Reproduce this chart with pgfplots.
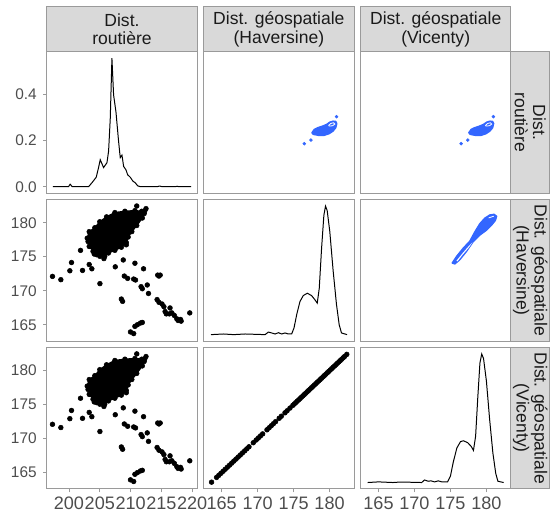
\documentclass[border=0pt]{standalone}
\usepackage{fontspec}
\setmainfont{Liberation Sans}
\usepackage{pgfplots}
\pgfplotsset{compat=1.18}
\usepgfplotslibrary{groupplots}
\usepackage{pgfplotstable}

\definecolor{stripfill}{HTML}{D9D9D9}
\definecolor{frame}{HTML}{9A9A9A}
\definecolor{ticktext}{HTML}{4D4D4D}
\definecolor{striptext}{HTML}{1A1A1A}
\definecolor{contour}{HTML}{3366FF}

% density of road distance
\pgfplotstableread{
r d
197.38 0
199.92 0
200.19 0.011
200.52 0
202.09 0
203.18 0
203.72 0.017
204.42 0.041
204.80 0.083
205.07 0.117
205.35 0.100
205.61 0.083
206.16 0.104
206.43 0.155
206.70 0.297
206.97 0.558
207.24 0.398
207.62 0.326
208.05 0.197
208.32 0.126
208.60 0.137
208.87 0.088
209.25 0.073
209.52 0.052
209.95 0.041
210.38 0.024
210.76 0.017
211.14 0.004
211.58 0
214.29 0
214.72 0.003
215.10 0
217.27 0
217.54 0.002
217.81 0
219.81 0
}\densR

% density of Haversine distance (scaled)
\pgfplotstableread{
h d
163.52 0
165.27 0.005
166.66 0
168.27 0.005
171.04 0
171.50 0.020
171.96 0.013
172.43 0.005
172.89 0.015
173.35 0.005
173.81 0.013
174.27 0.005
174.73 0.005
175.06 0.052
175.43 0.155
175.89 0.258
176.35 0.304
176.90 0.322
177.50 0.304
177.97 0.271
178.29 0.245
178.57 0.361
178.89 0.670
179.21 0.928
179.44 1.000
179.67 0.966
180.04 0.799
180.51 0.490
180.97 0.232
181.34 0.077
181.66 0.013
182.44 0
}\densH

% density of Vicenty distance (scaled)
\pgfplotstableread{
v d
163.50 0
165.00 0.005
167.00 0
168.10 0.004
171.00 0
171.40 0.020
171.90 0.010
172.30 0.013
172.80 0.005
173.30 0.013
173.80 0.005
174.60 0.005
175.00 0.050
175.40 0.160
175.90 0.270
176.40 0.318
176.80 0.325
177.40 0.310
177.90 0.280
178.20 0.250
178.50 0.360
178.80 0.660
179.10 0.930
179.35 1.000
179.60 0.965
180.00 0.790
180.45 0.490
180.90 0.230
181.30 0.070
181.60 0.010
182.40 0
}\densV

% road vs geodesic: scattered points
\pgfplotstableread{
r h
197.32 172.11
198.68 171.63
200.14 172.94
200.41 174.15
201.87 175.94
202.20 172.99
203.28 173.86
203.71 173.23
203.28 176.52
204.10 175.40
205.02 171.05
205.67 174.73
207.51 173.52
208.81 174.53
208.98 172.16
209.52 171.82
208.50 168.78
208.70 168.44
210.70 174.05
210.50 171.72
210.80 171.58
212.10 173.23
211.70 170.60
211.90 170.30
212.70 170.85
212.90 169.60
214.60 172.16
214.80 172.30
214.40 172.30
214.30 168.70
214.60 168.30
215.10 168.05
215.40 167.66
215.60 166.94
216.40 167.47
215.80 166.60
216.30 166.60
216.70 166.74
217.10 166.36
217.50 165.87
217.70 165.63
218.10 165.78
218.20 165.53
219.60 166.74
209.98 163.94
210.50 163.70
210.70 164.76
211.10 165.00
211.60 165.25
211.90 165.34
211.00 182.47
212.50 182.08
212.30 181.74
209.30 176.76
207.70 177.82
}\scat

% road vs geodesic: dense core of the cloud
\pgfplotstableread{
r h
202.96 177.73
203.28 178.69
204.20 179.27
205.00 180.15
206.10 180.87
207.45 181.50
209.08 181.69
210.70 181.79
211.80 181.69
212.20 181.35
211.90 180.70
211.00 179.60
210.20 178.70
209.60 177.90
209.30 177.10
208.50 176.40
207.45 175.95
206.40 175.55
205.80 175.07
205.00 175.07
204.50 175.30
203.90 175.80
203.50 176.50
203.10 177.24
}\core

% Haversine vs Vicenty
\pgfplotstableread{
h v
163.6 163.6
164.3 164.3
164.6 164.6
164.9 164.9
165.2 165.2
165.5 165.5
165.8 165.8
166.1 166.1
166.4 166.4
166.7 166.7
167.0 167.0
167.3 167.3
167.6 167.6
167.9 167.9
168.2 168.2
168.5 168.5
168.8 168.8
169.4 169.4
169.8 169.8
170.1 170.1
170.4 170.4
170.7 170.7
171.3 171.3
171.6 171.6
171.9 171.9
172.2 172.2
172.5 172.5
173.0 173.0
173.3 173.3
173.8 173.8
174.1 174.1
174.5 174.5
174.9 174.9
175.1 175.1
175.3 175.3
175.5 175.5
175.7 175.7
175.9 175.9
176.1 176.1
176.3 176.3
176.5 176.5
176.7 176.7
176.9 176.9
177.1 177.1
177.3 177.3
177.5 177.5
177.7 177.7
177.9 177.9
178.1 178.1
178.3 178.3
178.5 178.5
178.7 178.7
178.9 178.9
179.1 179.1
179.3 179.3
179.5 179.5
179.7 179.7
179.9 179.9
180.1 180.1
180.3 180.3
180.5 180.5
180.7 180.7
180.9 180.9
181.1 181.1
181.3 181.3
181.5 181.5
181.7 181.7
181.9 181.9
182.1 182.1
182.4 182.4
}\diag

% 2d density contour: geodesic (x) vs road (y)
\pgfplotstableread{
x y
177.55 206.83
177.87 207.40
178.33 207.69
179.03 207.98
179.58 208.26
180.04 208.66
180.50 208.83
180.87 208.78
181.01 208.43
180.87 207.69
180.50 207.12
179.95 206.66
179.26 206.37
178.47 206.37
177.73 206.54
}\cblob
\pgfplotstableread{
x y
179.86 208.09
180.18 208.43
180.55 208.55
180.74 208.32
180.41 208.03
179.95 207.98
179.86 208.09
}\chole
\pgfplotstableread{
x y
180.97 209.60
177.41 205.56
176.49 204.94
}\cdots

% 2d density contour: Vicenty (x) vs Haversine (y)
\pgfplotstableread{
x y
175.24 174.08
175.84 175.04
176.76 176.25
177.69 177.30
178.38 178.65
179.07 179.85
179.76 180.67
180.46 181.15
181.06 181.25
181.43 180.96
181.24 180.33
180.69 179.61
179.99 178.89
179.07 178.17
178.15 177.21
177.22 175.76
176.30 174.56
175.61 173.94
}\eblob
\pgfplotstableread{
x y
175.84 174.42
176.76 175.62
177.69 176.73
178.06 177.11
177.55 176.34
176.62 175.19
175.98 174.32
}\ehole

\pgfplotsset{
  pair/.style={
    scale only axis, width=113.25pt, height=106.5pt,
    axis line style={frame, line width=0.75pt},
    tick align=outside, major tick length=2.6pt,
    tick style={frame, line width=0.6pt},
    xtick pos=bottom, ytick pos=left,
    xtick=\empty, ytick=\empty,
    xticklabel style={font=\fontsize{13.6}{14}\selectfont, text=ticktext},
    yticklabel style={font=\fontsize{11.6}{12}\selectfont, text=ticktext, xshift=-1.5pt},
    /pgf/number format/assume math mode=true,
  },
  dens/.style={black, line width=0.75pt, no marks},
  dot/.style={only marks, mark=*, mark size=1.8pt, black},
  blue contour/.style={draw=contour, fill=contour, line width=1pt, line join=round, no marks},
}

\begin{document}
\begin{tikzpicture}
\begin{groupplot}[group style={group size=3 by 3, horizontal sep=4.9pt, vertical sep=4.9pt}, pair]
% row 1
\nextgroupplot[xmin=196.4, xmax=220.8, ymin=-0.028, ymax=0.586,
  ytick={0,0.2,0.4}, yticklabels={0.0,0.2,0.4}]
\addplot[dens] table[x=r, y=d] {\densR};

\nextgroupplot[xmin=162.5, xmax=183.4, ymin=196.4, ymax=220.8]
\addplot[blue contour] table[x=x, y=y] {\cblob} -- cycle;
\addplot[white, line width=0.6pt, no marks] table[x=x, y=y] {\chole};
\addplot[only marks, mark=*, mark size=1.1pt, contour] table[x=x, y=y] {\cdots};

\nextgroupplot[xmin=162.5, xmax=183.4, ymin=196.4, ymax=220.8]
\addplot[blue contour] table[x=x, y=y] {\cblob} -- cycle;
\addplot[white, line width=0.6pt, no marks] table[x=x, y=y] {\chole};
\addplot[only marks, mark=*, mark size=1.1pt, contour] table[x=x, y=y] {\cdots};

% row 2
\nextgroupplot[xmin=196.4, xmax=220.8, ymin=162.6, ymax=183.4,
  ytick={165,170,175,180}, yticklabels={165,170,175,180}]
\addplot[fill=black, draw=black, line width=1pt, no marks] table[x=r, y=h] {\core} -- cycle;
\addplot[dot] table[x=r, y=h] {\core};
\addplot[dot] table[x=r, y=h] {\scat};

\nextgroupplot[xmin=162.5, xmax=183.4, ymin=-0.05, ymax=1.05]
\addplot[dens] table[x=h, y=d] {\densH};

\nextgroupplot[xmin=162.5, xmax=183.4, ymin=162.6, ymax=183.4]
\addplot[blue contour] table[x=x, y=y] {\eblob} -- cycle;
\addplot[fill=white, draw=none, no marks] table[x=x, y=y] {\ehole} -- cycle;
\addplot[white, line width=0.6pt, no marks] coordinates {(180.32,180.72) (181.02,180.96)};

% row 3
\nextgroupplot[xmin=196.4, xmax=220.8, ymin=162.6, ymax=183.4,
  xtick={200,205,210,215,220}, xticklabels={200,205,210,215,220},
  ytick={165,170,175,180}, yticklabels={165,170,175,180}]
\addplot[fill=black, draw=black, line width=1pt, no marks] table[x=r, y=h] {\core} -- cycle;
\addplot[dot] table[x=r, y=h] {\core};
\addplot[dot] table[x=r, y=h] {\scat};

\nextgroupplot[xmin=162.5, xmax=183.4, ymin=162.6, ymax=183.4,
  xtick={165,170,175,180}, xticklabels={165,170,175,180}]
\addplot[dot] table[x=h, y=v] {\diag};

\nextgroupplot[xmin=162.5, xmax=183.4, ymin=-0.05, ymax=1.05,
  xtick={165,170,175,180}, xticklabels={165,170,175,180}]
\addplot[dens] table[x=v, y=d] {\densV};
\end{groupplot}

% strips on top
\tikzset{strip/.style={draw=frame, fill=stripfill, line width=0.75pt},
  striplabel/.style={midway, align=center, text=striptext, font=\fontsize{13.2}{13.6}\selectfont}}
\draw[strip] (group c1r1.north west) rectangle ([yshift=33.75pt]group c1r1.north east);
\draw[strip] (group c2r1.north west) rectangle ([yshift=33.75pt]group c2r1.north east);
\draw[strip] (group c3r1.north west) rectangle ([yshift=33.75pt]group c3r1.north east);
\path (group c1r1.north west) -- ([yshift=33.75pt]group c1r1.north east) node[striplabel] {Dist.\\routière};
\path (group c2r1.north west) -- ([yshift=33.75pt]group c2r1.north east) node[striplabel] {Dist. géospatiale\\(Haversine)};
\path (group c3r1.north west) -- ([yshift=33.75pt]group c3r1.north east) node[striplabel] {Dist. géospatiale\\(Vicenty)};

% strips on the right
\draw[strip] (group c3r1.north east) rectangle ([xshift=29.25pt]group c3r1.south east);
\draw[strip] (group c3r2.north east) rectangle ([xshift=29.25pt]group c3r2.south east);
\draw[strip] (group c3r3.north east) rectangle ([xshift=29.25pt]group c3r3.south east);
\path (group c3r1.north east) -- ([xshift=29.25pt]group c3r1.south east) node[striplabel, rotate=-90] {Dist.\\routière};
\path (group c3r2.north east) -- ([xshift=29.25pt]group c3r2.south east) node[striplabel, rotate=-90] {Dist. géospatiale\\(Haversine)};
\path (group c3r3.north east) -- ([xshift=29.25pt]group c3r3.south east) node[striplabel, rotate=-90] {Dist. géospatiale\\(Vicenty)};

% page size
\path ([xshift=-35.25pt, yshift=39pt]group c1r1.north west) rectangle ([xshift=29.6pt, yshift=-17.25pt]group c3r3.south east);
\end{tikzpicture}
\end{document}
